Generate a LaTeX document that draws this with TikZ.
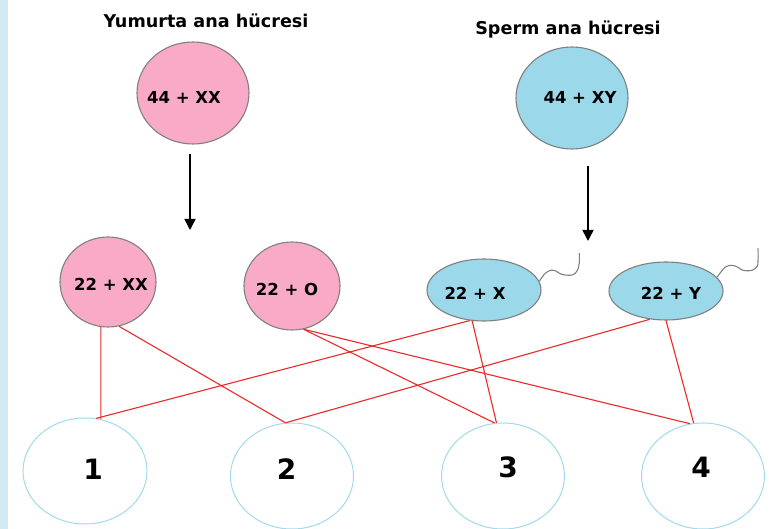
\documentclass[tikz,border=0pt]{standalone}
\usepackage{fontspec}
\setmainfont{DejaVu Sans}
\usetikzlibrary{shapes.geometric,arrows.meta}
\definecolor{pinkfill}{RGB}{249,170,198}
\definecolor{bluefill}{RGB}{154,216,234}
\definecolor{bandblue}{RGB}{212,234,242}
\definecolor{ringblue}{RGB}{160,218,236}
\definecolor{edgegrey}{RGB}{128,128,128}
\definecolor{linkred}{RGB}{238,40,40}
\tikzset{
  cell/.style={ellipse,draw=edgegrey,line width=1.1pt,inner sep=0pt},
  eggcell/.style={cell,fill=pinkfill},
  spermcell/.style={cell,fill=bluefill},
  zygote/.style={ellipse,draw=ringblue,line width=1pt,inner sep=0pt,minimum width=123pt,minimum height=106pt},
  celltext/.style={font=\bfseries\fontsize{16.5}{17}\selectfont,anchor=base,inner sep=0pt},
  titletext/.style={font=\bfseries\fontsize{17.6}{18}\selectfont,anchor=base,inner sep=0pt},
  numtext/.style={font=\bfseries\fontsize{28}{30}\selectfont,anchor=base,inner sep=0pt},
  link/.style={draw=linkred,line width=1.1pt},
  downarrow/.style={draw=black,line width=1.6pt,-{Triangle[length=11pt,width=11pt]}},
  tailline/.style={draw=edgegrey,line width=1.1pt}
}
\begin{document}
\begin{tikzpicture}[x=1pt,y=-1pt]
\useasboundingbox (0,0) rectangle (780,529);
\fill[bandblue] (0,0) rectangle (8,529);
% titles
\node[titletext] (t1) at (206,28) {Yumurta ana hücresi};
\node[titletext] (t2) at (568,35) {Sperm ana hücresi};
% mother cells
\node[eggcell,minimum width=112pt,minimum height=102pt] (egg) at (193,93) {};
\node[spermcell,minimum width=112pt,minimum height=102pt] (sp) at (572,98) {};
\node[celltext] (l1) at (184,104) {44 + XX};
\node[celltext] (l2) at (580,104) {44 + XY};
% gametes
\node[eggcell,minimum width=96pt,minimum height=90pt] (xx) at (108,282) {};
\node[eggcell,minimum width=96pt,minimum height=88pt] (o) at (292,286) {};
\node[spermcell,minimum width=114pt,minimum height=62pt] (x) at (484,290) {};
\node[spermcell,minimum width=114pt,minimum height=58pt] (y) at (666,291) {};
\node[celltext] (l3) at (111,291) {22 + XX};
\node[celltext] (l4) at (287,296) {22 + O};
\node[celltext] (l5) at (475,300) {22 + X};
\node[celltext] (l6) at (671,300) {22 + Y};
% tails
\begin{scope}[shift={(x.9)}]
\draw[tailline] plot[smooth,tension=0.6] coordinates {(0,0) (6,-8) (12,-11) (17,-10) (22,-7) (31,-6) (36,-8) (39,-13) (40,-18) (40,-28)};
\end{scope}
\begin{scope}[shift={(y.15)}]
\draw[tailline] plot[smooth,tension=0.6] coordinates {(0,0) (8,-10) (15,-12) (21,-10) (26,-7) (35,-7) (40,-11) (41,-16) (41,-29)};
\end{scope}
% arrows
\coordinate (a1) at (190,230);
\coordinate (a2) at (588,241);
\draw[downarrow] ([xshift=-3pt,yshift=-9pt]egg.south) -- (a1);
\draw[downarrow] ([xshift=16pt,yshift=-16pt]sp.south) -- (a2);
% zygotes
\node[zygote,minimum width=124pt] (c1) at (85,471) {};
\node[zygote] (c2) at (292,476) {};
\node[zygote] (c3) at (503,476) {};
\node[zygote] (c4) at (703,476) {};
\node[numtext] (n1) at (93,479) {1};
\node[numtext] (n2) at (286.5,479) {2};
\node[numtext] (n3) at (508,478) {3};
\node[numtext] (n4) at (701,478) {4};
% links
\draw[link] (xx.-99) -- (c1.73);
\draw[link] (xx.-76) -- (c2.97);
\draw[link] (c1.78) -- (x.-115);
\draw[link] (o.-75) -- (c3.99);
\draw[link] (o.-75) -- (c4.104);
\draw[link] (x.-111) -- (c3.97);
\draw[link] (c2.97) -- (y.-120);
\draw[link] (y.-90) -- (c4.100);
\end{tikzpicture}
\end{document}
